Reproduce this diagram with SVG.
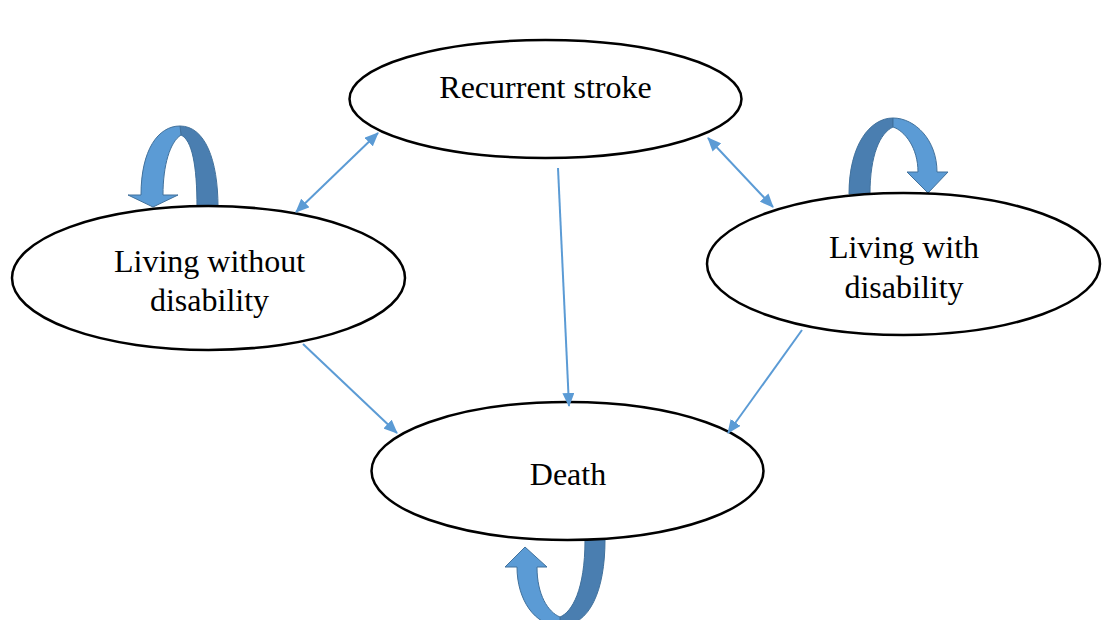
<svg xmlns="http://www.w3.org/2000/svg" width="1107" height="620" viewBox="0 0 1107 620">
<style>
.node ellipse{fill:#fff;stroke:#000;stroke-width:2.5}
.node text{font-family:"Liberation Serif","Times New Roman",serif;font-size:32px;fill:#000;text-anchor:middle}
.conn line{stroke:#5B9BD5;stroke-width:2}
.lt{fill:#5B9BD5;stroke:#41719C;stroke-width:1}
.dk{fill:#4A7EB0;stroke:#41719C;stroke-width:1}
</style>
<defs>
<marker id="ah" viewBox="0 0 14 12" refX="13" refY="6" markerWidth="14" markerHeight="12" markerUnits="userSpaceOnUse" orient="auto-start-reverse">
<path d="M0,0 L14,6 L0,12 Z" fill="#5B9BD5"/>
</marker>
</defs>
<rect width="1107" height="620" fill="#fff"/>
<g id="self-loops">
<g id="loop-without">
<path class="dk" d="M180,126 C205,126 218,160 218,207 L197,207 C197,165 192,140 181,135 Z"/>
<path class="lt" d="M128,195 L141,195 C141,150 158,126 180,126 L181,135 C170,142 163,165 163,195 L178,195 L153,207 Z"/>
</g>
<g id="loop-with">
<path class="dk" d="M849,194 C849,145 870,118 893,118 L893,127 C880,133 870,155 870,194 Z"/>
<path class="lt" d="M893,118 C915,118 937,140 937,172 L948,172 L928,193 L907,172 L918,172 C918,148 905,131 893,127 Z"/>
</g>
<g id="loop-death">
<path class="dk" d="M560,626 C590,626 605,590 605,540 L585,540 C585,590 572,612 560,617 Z"/>
<path class="lt" d="M517,567 L505,567 L525,547 L547,567 L537,567 C537,595 548,612 560,617 L560,626 C535,626 517,600 517,567 Z"/>
</g>
</g>
<g id="n-stroke" class="node">
<ellipse cx="545.5" cy="99" rx="196" ry="59"/>
<text x="545.5" y="98">Recurrent stroke</text>
</g>
<g id="n-without" class="node">
<ellipse cx="208.5" cy="278" rx="196.5" ry="72"/>
<text x="209.5" y="272">Living without</text>
<text x="209.5" y="311">disability</text>
</g>
<g id="n-with" class="node">
<ellipse cx="903.5" cy="264" rx="196.5" ry="71"/>
<text x="904" y="258">Living with</text>
<text x="904" y="298">disability</text>
</g>
<g id="n-death" class="node">
<ellipse cx="567.5" cy="471" rx="196" ry="69"/>
<text x="568" y="485">Death</text>
</g>
<g id="connectors" class="conn">
<line x1="378" y1="133" x2="296" y2="212" marker-start="url(#ah)" marker-end="url(#ah)"/>
<line x1="708" y1="138" x2="773" y2="207" marker-start="url(#ah)" marker-end="url(#ah)"/>
<line x1="558" y1="168" x2="569" y2="406" marker-end="url(#ah)"/>
<line x1="303" y1="344" x2="397" y2="433" marker-end="url(#ah)"/>
<line x1="802" y1="330" x2="728" y2="433" marker-end="url(#ah)"/>
</g>
</svg>
